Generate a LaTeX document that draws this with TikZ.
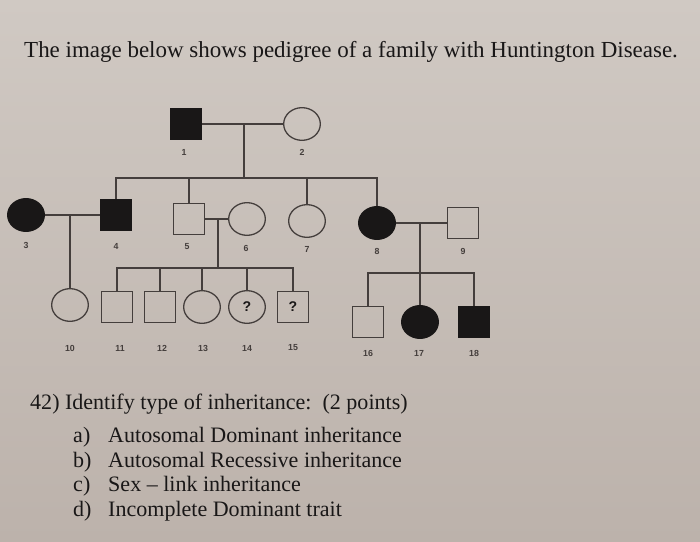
\documentclass[tikz,border=0pt]{standalone}
\usepackage{fontspec}
\setmainfont{Liberation Serif}
\newfontfamily\numfont{Liberation Sans}
\usetikzlibrary{shapes.geometric,positioning,calc}

\definecolor{paper}{RGB}{208,201,195}
\definecolor{paperdark}{RGB}{188,178,171}
\definecolor{ink}{RGB}{25,23,23}
\definecolor{pen}{RGB}{68,62,60}

\begin{document}
\begin{tikzpicture}[x=0.03cm, y=-0.03cm,
        male/.style={rectangle, draw=pen, line width=1.1pt, minimum size=0.95cm, inner sep=0pt},
        female/.style={ellipse, draw=pen, line width=1.1pt, minimum width=1.1cm, minimum height=0.98cm, inner sep=0pt},
        affected/.style={fill=ink, draw=ink},
        unknown/.style={font=\numfont\bfseries\fontsize{12}{13}\selectfont, text=ink},
        num/.style={font=\numfont\bfseries\fontsize{7.5}{9}\selectfont, text=pen},
        link/.style={draw=pen, line width=1.1pt},
        txt/.style={text=ink, anchor=base west, inner sep=0pt}
    ]
        % Paper
        \shade[top color=paper, bottom color=paperdark] (0,0) rectangle (700,542);
        \useasboundingbox (0,0) rectangle (700,542);

        % Heading
        \node[txt, font=\fontsize{19.6}{24}\selectfont] (title) at (24,58) {The image below shows pedigree of a family with Huntington Disease.};

        % Generation I
        \node[male, affected] (p1) at (186,124) {};
        \node[female] (p2) at (302,124) {};

        % Generation II
        \node[female, affected] (p3) at (26,215) {};
        \node[male, affected] (p4) at (116,215) {};
        \node[male] (p5) at (189,219) {};
        \node[female] (p6) at (247,219) {};
        \node[female] (p7) at (307,221) {};
        \node[female, affected] (p8) at (377,223) {};
        \node[male] (p9) at (463,223) {};

        % Generation III
        \node[female] (p10) at (70,305) {};
        \node[male] (p11) at (117,307) {};
        \node[male] (p12) at (160,307) {};
        \node[female] (p13) at (202,307) {};
        \node[female, unknown] (p14) at (247,307) {?};
        \node[male, unknown] (p15) at (293,307) {?};
        \node[male] (p16) at (368,322) {};
        \node[female, affected] (p17) at (420,322) {};
        \node[male, affected] (p18) at (474,322) {};

        % Numbers
        \foreach \n/\x/\y in {1/184/152, 2/302/152, 3/26/245, 4/116/246, 5/187/247, 6/246/248, 7/307/249, 8/377/251, 9/463/251,
                10/70/348, 11/120/348, 12/162/348, 13/203/348, 14/247/348, 15/293/348, 16/368/353, 17/419/353, 18/474/353}
            \node[num] (t\n) at (\x,\y) {\n};

        % Couples and descent lines
        \coordinate (m12) at ($(p1)!0.5!(p2)$);
        \coordinate (s12) at (244,178);
        \draw[link] (p1) -- (p2);
        \draw[link] (m12) -- (s12);
        \draw[link] (p4) |- (s12) -| (p8);
        \draw[link] (p5) -- (p5 |- s12);
        \draw[link] (p7) -- (p7 |- s12);

        \coordinate (m34) at (70,215);
        \draw[link] (p3) -- (p4);
        \draw[link] (m34) -- (p10);

        \coordinate (m56) at ($(p5)!0.5!(p6)$);
        \coordinate (s56) at (218,268);
        \draw[link] (p5) -- (p6);
        \draw[link] (m56) -- (s56);
        \draw[link] (p11) |- (s56) -| (p15);
        \draw[link] (p12) -- (p12 |- s56);
        \draw[link] (p13) -- (p13 |- s56);
        \draw[link] (p14) -- (p14 |- s56);

        \coordinate (m89) at ($(p8)!0.5!(p9)$);
        \coordinate (s89) at (420,273);
        \draw[link] (p8) -- (p9);
        \draw[link] (m89) -- (s89);
        \draw[link] (p16) |- (s89) -| (p18);
        \draw[link] (p17) -- (s89);

        % Question
        \node[txt, font=\fontsize{18.8}{22}\selectfont] (q42) at (30,409) {42) Identify type of inheritance:\ \ (2 points)};
        \foreach \k/\y/\ans in {a/442/Autosomal Dominant inheritance, b/467/Autosomal Recessive inheritance,
                c/491/Sex \textendash\ link inheritance, d/516/Incomplete Dominant trait} {
            \node[txt, font=\fontsize{18.8}{22}\selectfont] (o\k) at (73,\y) {\k)};
            \node[txt, font=\fontsize{18.8}{22}\selectfont] (a\k) at (108,\y) {\ans};
        }
\end{tikzpicture}
\end{document}
